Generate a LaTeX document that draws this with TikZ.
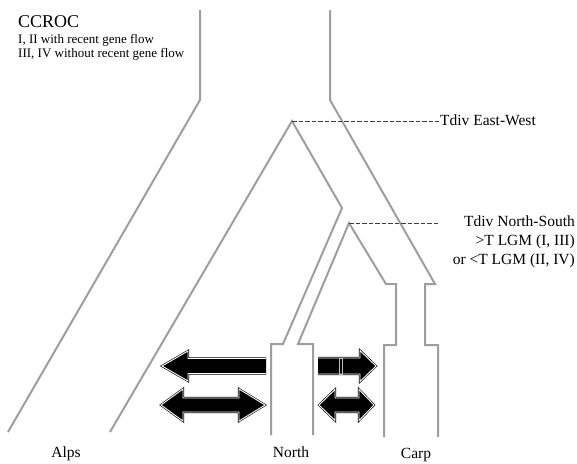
\documentclass[tikz,border=0pt]{standalone}
\usepackage{fontspec}
\setmainfont{Liberation Serif}
\definecolor{treegrey}{RGB}{158,158,158}
\definecolor{dashgrey}{RGB}{60,60,60}
\begin{document}
\begin{tikzpicture}[x=1pt,y=-1pt,
  branch/.style={draw=treegrey, line width=2pt, line join=miter},
  divline/.style={draw=dashgrey, line width=0.9pt, dash pattern=on 4.5pt off 2pt},
  flowarrow/.style={draw=black, double=white, double distance=0.9pt, line width=0.6pt, line join=miter},
  lab/.style={font=\fontsize{15.5}{18}\selectfont, anchor=base, inner sep=0pt},
  rlab/.style={font=\fontsize{15.5}{18}\selectfont, anchor=base east, inner sep=0pt},
  titlelab/.style={font=\fontsize{18}{20}\selectfont, anchor=base west, inner sep=0pt},
  notelab/.style={font=\fontsize{13}{15}\selectfont, anchor=base west, inner sep=0pt}]
\useasboundingbox (0,0) rectangle (577,463);
% key points of the tree
\coordinate (aTop) at (200,10);
\coordinate (aBend) at (200,100);
\coordinate (aEnd) at (8,432);
\coordinate (eTop) at (330,10);
\coordinate (eBend) at (330,100);
\coordinate (eK1) at (435,284);
\coordinate (eK2) at (425,284);
\coordinate (eK3) at (425,345);
\coordinate (eK4) at (438,345);
\coordinate (eEnd) at (438,437);
\coordinate (p1) at (292,121);
\coordinate (p1L) at (110,432);
\coordinate (p1R) at (342,208);
\coordinate (nA) at (283,344);
\coordinate (nB) at (271,344);
\coordinate (nEnd) at (271,435);
\coordinate (p2) at (349,223);
\coordinate (p2L) at (298,344);
\coordinate (nC) at (313,344);
\coordinate (nEnd2) at (313,435);
\coordinate (p2R) at (386,284);
\coordinate (cA) at (396,284);
\coordinate (cB) at (396,345);
\coordinate (cC) at (384,345);
\coordinate (cEnd) at (384,437);
\coordinate (d2end) at (438,223);
% tree
\draw[branch] (aTop) -- (aBend) -- (aEnd);
\draw[branch] (eTop) -- (eBend) -- (eK1) -- (eK2) -- (eK3) -- (eK4) -- (eEnd);
\draw[branch] (p1L) -- (p1) -- (p1R) -- (nA) -- (nB) -- (nEnd);
\draw[branch] (nEnd2) -- (nC) -- (p2L) -- (p2) -- (p2R) -- (cA) -- (cB) -- (cC) -- (cEnd);
% texts
\node[titlelab] (title) at (18,27) {CCROC};
\node[notelab] (note1) at (18,43.5) {I, II with recent gene flow};
\node[notelab] (note2) at (18,57.5) {III, IV without recent gene flow};
\node[font=\fontsize{15.5}{18}\selectfont, anchor=base west, inner sep=0pt] (tdivEW) at (440,125) {Tdiv East-West};
\node[rlab] (tdivNS) at (575,226) {Tdiv North-South};
\node[rlab] (lgmA) at (575,245) {>T LGM (I, III)};
\node[rlab] (lgmB) at (575,264) {or <T LGM (II, IV)};
\node[lab] (alps) at (66,457) {Alps};
\node[lab] (north) at (291,457) {North};
\node[lab] (carp) at (416,458) {Carp};
% divergence markers
\draw[divline] (p1) -- ([xshift=-1pt]p1 -| tdivEW.west);
\draw[divline] (p2) -- (d2end);
% gene flow arrows
\fill[black] (266,358.5) -- (188,358.5) -- (188,351) -- (162,366) -- (188,381) -- (188,373.5) -- (266,373.5) -- cycle;
\draw[flowarrow] (266,358.5) -- (188,358.5) -- (188,351) -- (162,366) -- (188,381) -- (188,373.5) -- (266,373.5);
\path[flowarrow, fill=black] (161,405) -- (183,389) -- (183,398) -- (239,398) -- (239,389) -- (265,405) -- (239,421) -- (239,412) -- (183,412) -- (183,421) -- cycle;
\fill[black] (318,358) -- (360,358) -- (360,350.5) -- (376,366) -- (360,381.5) -- (360,374) -- (318,374) -- cycle;
\draw[flowarrow] (318,358) -- (360,358) -- (360,350.5) -- (376,366) -- (360,381.5) -- (360,374) -- (318,374);
\draw[white!75!black, line width=0.4pt] (339.3,358) rectangle (342.5,374);
\path[flowarrow, fill=black] (319,405) -- (335,389.5) -- (335,398) -- (359,398) -- (359,389.5) -- (374,405) -- (359,420.5) -- (359,412) -- (335,412) -- (335,420.5) -- cycle;
\end{tikzpicture}
\end{document}
